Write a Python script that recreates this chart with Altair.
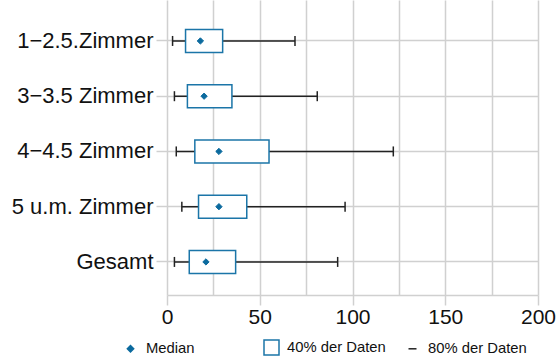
import altair as alt
import pandas as pd

cats = ["1−2.5.Zimmer", "3−3.5 Zimmer", "4−4.5 Zimmer", "5 u.m. Zimmer", "Gesamt"]
p10 = [3, 4, 5, 8, 4]
p30 = [10, 11, 15, 17, 12]
median = [18, 20, 28, 28, 21]
p70 = [30, 35, 55, 43, 37]
p90 = [69, 81, 122, 96, 92]
kinds = ["Median", "40% der Daten", "80% der Daten"]
x_ticks = [0, 25, 50, 75, 100, 125, 150, 175, 200]

df = pd.DataFrame({
    "cat": cats, "p10": p10, "p30": p30, "median": median,
    "p70": p70, "p90": p90, "kind": ["Median"] * len(cats),
})

FONT = "Liberation Sans"
GRID = "#d0d0d0"
BLUE_BOX = "#1b75a8"
BLUE_MED = "#0b6a9e"
DARK = "#222222"

xscale = alt.Scale(domain=[0, 200], nice=False)
xaxis = alt.Axis(
    values=x_ticks, title=None, grid=True, gridColor=GRID, gridWidth=1.5,
    domainColor=GRID, domainWidth=1.5, tickColor=GRID, tickWidth=1.5, tickSize=10,
    tickOpacity={"condition": {"test": "datum.value % 50 !== 0", "value": 0}, "value": 1},
    labelExpr="datum.value % 50 === 0 ? datum.label : ''",
    labelFlush=False, labelOverlap=False,
    labelFontSize=21, labelFont=FONT, labelColor="#111", labelPadding=1,
)
y = alt.Y(
    "cat:N", sort=cats, title=None,
    scale=alt.Scale(paddingInner=0, paddingOuter=0.17, align=0.71),
    axis=alt.Axis(
        grid=True, gridColor=GRID, gridWidth=1.5, bandPosition=0.5, domain=False,
        tickColor=GRID, tickWidth=1.5, tickSize=11, labelPadding=3,
        labelFontSize=22, labelFont=FONT, labelColor="#111",
    ),
)

base = alt.Chart(df)

whisker = base.mark_rule(color=DARK, strokeWidth=1.5).encode(
    x=alt.X("p10:Q", scale=xscale, axis=xaxis), x2="p90:Q", y=y
)
cap_lo = base.mark_tick(color=DARK, thickness=1.5, size=10, opacity=1).encode(
    x="p10:Q", y=y
)
cap_hi = base.mark_tick(color=DARK, thickness=1.5, size=10, opacity=1).encode(
    x="p90:Q", y=y
)
box = base.mark_bar(fill="white", stroke=BLUE_BOX, strokeWidth=1.5, size=23).encode(
    x="p30:Q", x2="p70:Q", y=y
)
med = base.mark_point(filled=True, opacity=1, strokeWidth=1).encode(
    x="median:Q",
    y=y,
    shape=alt.Shape("kind:N", title=None,
                    scale=alt.Scale(domain=kinds, range=["diamond", "square", "M-1,0H1"])),
    fill=alt.Fill("kind:N", title=None,
                  scale=alt.Scale(domain=kinds, range=[BLUE_MED, "white", "transparent"])),
    stroke=alt.Stroke("kind:N", title=None,
                      scale=alt.Scale(domain=kinds, range=[BLUE_MED, BLUE_BOX, DARK])),
    size=alt.Size("kind:N", title=None,
                  scale=alt.Scale(type="ordinal", domain=kinds, range=[40, 225, 64])),
)

chart = (
    alt.layer(whisker, box, cap_lo, cap_hi, med)
    .properties(
        width=371, height=295,
        autosize=alt.AutoSizeParams(type="none"),
        padding={"left": 167, "top": 0, "right": 20, "bottom": 63},
    )
    .configure_view(stroke=None)
    .configure_legend(
        orient="none", legendX=-45, legendY=339, direction="horizontal",
        columns=3, gridAlign="all", columnPadding=16, labelOffset=7,
        labelFontSize=14.8, labelFont=FONT, labelColor="#111",
        symbolStrokeWidth=1.5,
    )
)

chart.save("out.html", embed_options={"renderer": "svg", "actions": False})
